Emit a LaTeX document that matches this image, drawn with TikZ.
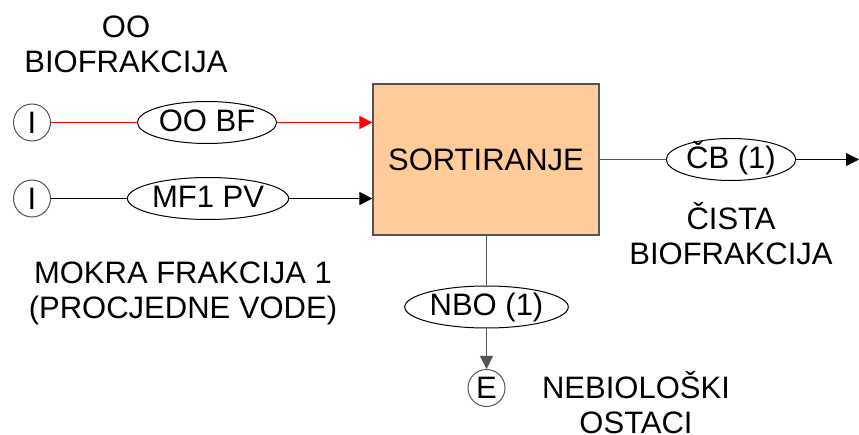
\documentclass[tikz,border=0pt]{standalone}
\usepackage{fontspec}
\setmainfont{Liberation Sans}
\usetikzlibrary{positioning,shapes.geometric,arrows.meta}

\definecolor{peach}{HTML}{FFCC99}
\definecolor{edgegray}{HTML}{555555}
\definecolor{flowred}{HTML}{FF0000}

\tikzset{
  tip/.style={-{Triangle[length=13pt,width=13pt]}},
  flow/.style={ellipse, draw, line width=1pt, inner xsep=1pt, inner ysep=0pt, text height=22pt, text depth=4pt, minimum height=42pt},
  term/.style={circle, draw=edgegray, line width=1pt, inner sep=0pt, minimum size=37pt},
  lbl/.style={align=center}
}

\begin{document}
\begin{tikzpicture}[x=1pt, y=-1pt, line width=1pt, font=\fontsize{31}{35}\selectfont]
  \useasboundingbox (0,0) rectangle (859,435);

  \node[rectangle, draw=edgegray, line width=1.2pt, fill=peach, minimum width=226pt, minimum height=151pt] (S) at (486,159.5) {SORTIRANJE};

  \node[term] (I1) at (32,122.5) {I};
  \node[term] (I2) at (32,198.5) {I};
  \node[flow] (OOBF) at (207,122.5) {OO BF};
  \node[flow] (MF) at (208,198.5) {MF1 PV};
  \node[flow] (CB) at (731,159.5) {ČB (1)};
  \node[flow] (NBO) at (486.5,307) {NBO (1)};
  \node[term] (E) at (486.5,388) {E};
  \coordinate (out) at (859,159.5);

  \node[lbl] (lOO) at (126,44) {OO\\BIOFRAKCIJA};
  \node[lbl] (lMF) at (183,293) {MOKRA FRAKCIJA 1\\(PROCJEDNE VODE)};
  \node[lbl] (lCB) at (731,234) {ČISTA\\BIOFRAKCIJA};
  \node[lbl] (lNBO) at (636,403) {NEBIOLOŠKI\\OSTACI};

  % ulazi
  \draw[flowred] (I1) -- (OOBF);
  \draw[flowred, tip] (OOBF) -- (OOBF -| S.west);
  \draw (I2) -- (MF);
  \draw[tip] (MF) -- (MF -| S.west);

  % izlazi
  \draw[edgegray] (S) -- (CB);
  \draw[edgegray] (S.south -| NBO) -- (NBO);
  \draw[tip] (CB) -- (out);
  \draw[edgegray, tip] (NBO) -- (E);
\end{tikzpicture}
\end{document}
